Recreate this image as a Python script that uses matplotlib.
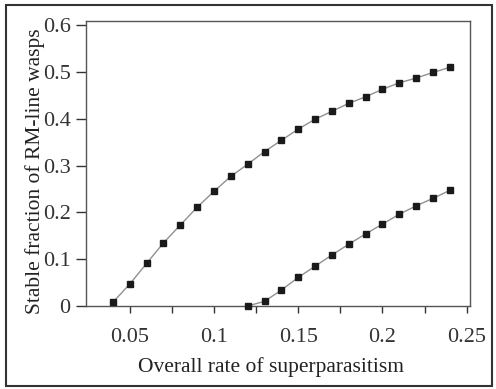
import numpy as np
import matplotlib.pyplot as plt
from matplotlib.patches import Rectangle

# overall rate of superparasitism
x_upper = [0.04, 0.05, 0.06, 0.07, 0.08, 0.09, 0.10, 0.11, 0.12, 0.13, 0.14,
           0.15, 0.16, 0.17, 0.18, 0.19, 0.20, 0.21, 0.22, 0.23, 0.24]
y_upper = [0.008, 0.047, 0.091, 0.135, 0.173, 0.211, 0.245, 0.277, 0.303, 0.330, 0.354,
           0.378, 0.399, 0.416, 0.433, 0.447, 0.463, 0.477, 0.487, 0.499, 0.510]

x_lower = [0.12, 0.13, 0.14, 0.15, 0.16, 0.17, 0.18, 0.19, 0.20, 0.21, 0.22, 0.23, 0.24]
y_lower = [0.0, 0.010, 0.034, 0.061, 0.085, 0.109, 0.132, 0.154, 0.175, 0.196, 0.214, 0.230, 0.247]

xticks = [0.05, 0.1, 0.15, 0.2, 0.25]
xtick_labels = ["0.05", "0.1", "0.15", "0.2", "0.25"]
yticks = [0, 0.1, 0.2, 0.3, 0.4, 0.5, 0.6]
ytick_labels = ["0", "0.1", "0.2", "0.3", "0.4", "0.5", "0.6"]

plt.rcParams["font.family"] = ["Liberation Serif", "DejaVu Serif"]

fig = plt.figure(figsize=(4.96, 3.89), dpi=100)
ax = fig.add_axes([86 / 496, 1 - 306 / 389, (470 - 86) / 496, (306 - 21) / 389])

for xs, ys in [(x_upper, y_upper), (x_lower, y_lower)]:
    ax.plot(xs, ys, color="#909090", lw=1.0, marker="s", markersize=4.3,
            markerfacecolor="#1a1a1a", markeredgecolor="#1a1a1a", clip_on=False, zorder=3)

ax.set_xlim(0.024, 0.252)
ax.set_ylim(0, 0.609)

ax.set_xticks(xticks)
ax.set_xticklabels(xtick_labels)
ax.set_xticks([0.075, 0.125, 0.175, 0.225], minor=True)
ax.set_yticks(yticks)
ax.set_yticklabels(ytick_labels)

ax.tick_params(axis="x", which="both", direction="out", length=5, width=1,
               pad=11, labelsize=16, colors="#333333")
ax.tick_params(axis="y", which="both", direction="out", length=7, width=1,
               pad=4, labelsize=16, colors="#333333")

for s in ax.spines.values():
    s.set_color("#555555")
    s.set_linewidth(1.0)

ax.set_xlabel("Overall rate of superparasitism", fontsize=15.5, color="#222222")
ax.set_ylabel("Stable fraction of RM-line wasps", fontsize=15.5, color="#222222")
# label placement (pixels -> axes fraction)
ax.xaxis.set_label_coords((271 - 86) / 384, -(372 - 306) / 285, transform=ax.transAxes)
ax.xaxis.label.set_va("baseline")
ax.yaxis.set_label_coords(-(86 - 45) / 384, (306 - 171) / 285, transform=ax.transAxes)

# outer frame around the figure
fig.patches.append(Rectangle((6 / 496, 1 - 386 / 389), 486 / 496, 381 / 389,
                             transform=fig.transFigure, fill=False,
                             edgecolor="#333333", linewidth=1.5))

fig.savefig("out.png", dpi=100)
